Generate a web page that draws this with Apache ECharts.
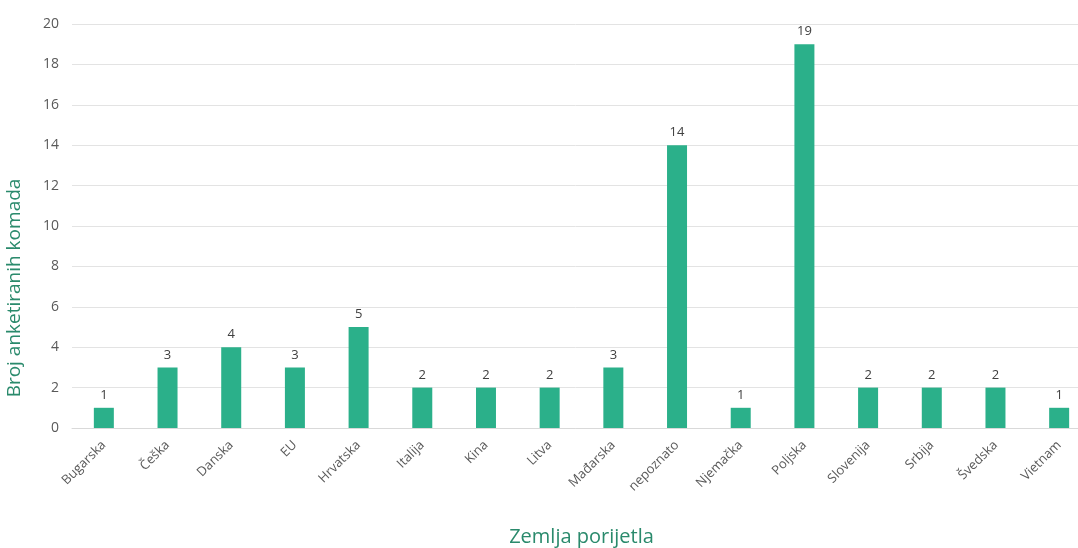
<!DOCTYPE html>
<html>
<head>
<meta charset="utf-8">
<script src="https://cdn.jsdelivr.net/npm/echarts@6/dist/echarts.min.js"></script>
<style>
  html, body { margin: 0; padding: 0; background: #fff; }
  #chart { width: 1078px; height: 548px; }
</style>
</head>
<body>
<div id="chart"></div>
<script>
const countries = ['Bugarska', 'Češka', 'Danska', 'EU', 'Hrvatska', 'Italija', 'Kina', 'Litva',
  'Mađarska', 'nepoznato', 'Njemačka', 'Poljska', 'Slovenija', 'Srbija', 'Švedska', 'Vietnam'];
const counts = [1, 3, 4, 3, 5, 2, 2, 2, 3, 14, 1, 19, 2, 2, 2, 1];

const chart = echarts.init(document.getElementById('chart'));
const font = 'Open Sans, Liberation Sans, sans-serif';

chart.setOption({
  animation: false,
  grid: { left: 72, top: 24, width: 1019, bottom: 120, outerBoundsMode: 'none', containLabel: false },
  xAxis: {
    type: 'category',
    data: countries,
    name: 'Zemlja porijetla',
    nameLocation: 'middle',
    nameGap: 99,
    nameTextStyle: { color: '#2a8a6c', fontSize: 20, fontFamily: font },
    axisLine: { lineStyle: { color: '#d9d9d9' } },
    axisTick: { show: false },
    axisLabel: { rotate: 45, color: '#595959', fontSize: 13, fontFamily: font, margin: 15, interval: 0 }
  },
  yAxis: {
    type: 'value',
    min: 0,
    max: 20,
    interval: 2,
    name: 'Broj anketiranih komada',
    nameLocation: 'middle',
    nameGap: 48,
    nameTextStyle: { color: '#2a8a6c', fontSize: 19, fontFamily: font, padding: [0, 124, 0, 0] },
    axisLabel: { color: '#595959', fontSize: 14, fontFamily: font, margin: 13 },
    splitLine: { lineStyle: { color: '#e3e3e3' } }
  },
  series: [{
    type: 'bar',
    data: counts,
    barWidth: 20,
    itemStyle: { color: '#2bb08a' },
    label: { show: true, position: 'top', color: '#404040', fontSize: 13, fontFamily: font, distance: 6 }
  }]
});
</script>
</body>
</html>
